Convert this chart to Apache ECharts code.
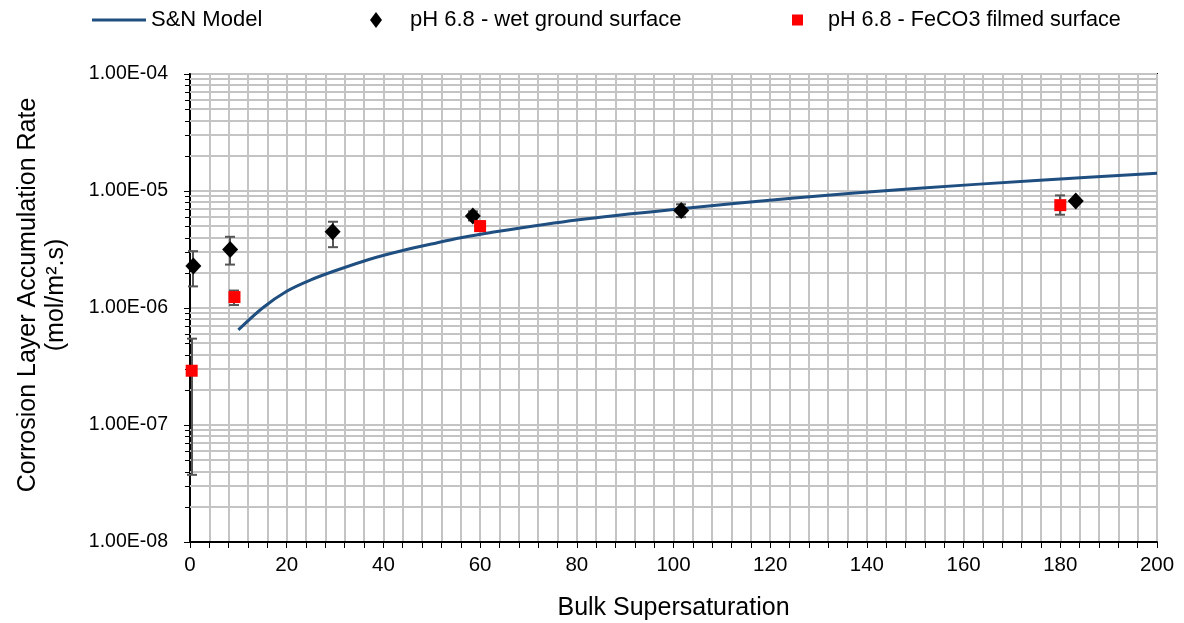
<!DOCTYPE html>
<html><head><meta charset="utf-8">
<script src="https://cdn.jsdelivr.net/npm/echarts@6/dist/echarts.min.js"></script>
<style>html,body{margin:0;padding:0;background:#fff}#c{width:1184px;height:623px}</style>
</head><body><div id="c"></div>
<script>
// ---- data ----
const modelX = [10, 15, 20, 25, 30, 37, 44, 51, 56, 62, 80, 100, 125, 150, 175, 200];
const modelY = [6.5e-7, 1.0e-6, 1.39e-6, 1.74e-6, 2.08e-6, 2.6e-6, 3.1e-6, 3.6e-6, 3.98e-6, 4.4e-6, 5.65e-6, 6.95e-6, 8.7e-6, 1.05e-5, 1.23e-5, 1.42e-5];

const wetX    = [0.7, 8.3, 29.5, 58.5, 101.6, 183.2];
const wetY    = [2.28e-6, 3.16e-6, 4.48e-6, 6.1e-6, 6.82e-6, 8.2e-6];
const wetHigh = [3.06e-6, 4.06e-6, 5.46e-6, 6.7e-6, 7.7e-6, 8.2e-6];
const wetLow  = [1.53e-6, 2.35e-6, 3.31e-6, 5.6e-6, 5.98e-6, 8.2e-6];

const filmX    = [0.35, 9.2, 60, 180];
const filmY    = [2.91e-7, 1.24e-6, 5.01e-6, 7.57e-6];
const filmHigh = [5.47e-7, 1.41e-6, 5.5e-6, 9.17e-6];
const filmLow  = [3.75e-8, 1.06e-6, 4.6e-6, 6.27e-6];

const yTickLabels = ['1.00E-08', '1.00E-07', '1.00E-06', '1.00E-05', '1.00E-04'];
const yDecades = [-8, -7, -6, -5];
const yMinorMultipliers = [2, 3, 4, 5, 6, 7, 8, 9];

const seriesNames = ['S&N Model', 'pH 6.8 - wet ground surface', 'pH 6.8 - FeCO3 filmed surface'];

// ---- build ----
const FONT = 'Liberation Sans, Arial, sans-serif';
const zip = (a, b) => a.map((v, i) => [v, b[i]]);
const zip3 = (a, b, c) => a.map((v, i) => [v, b[i], c[i]]);

const minorData = [];
yDecades.forEach(d => yMinorMultipliers.forEach(m => minorData.push([0, m * Math.pow(10, d)])));

function minorRender(params, api) {
  const v = api.value(1);
  const p1 = api.coord([0, v]);
  const p2 = api.coord([200, v]);
  const y = Math.round(p1[1]);
  return {
    type: 'group',
    children: [
      { type: 'line', shape: { x1: p1[0], y1: y, x2: p2[0], y2: y }, style: { stroke: '#c4c4c4', lineWidth: 2 } },
      { type: 'line', shape: { x1: p1[0] - 5, y1: y + 0.5, x2: p1[0], y2: y + 0.5 }, style: { stroke: '#000', lineWidth: 1 } }
    ]
  };
}

function errRender(params, api) {
  const x = api.value(0), lo = api.value(1), hi = api.value(2);
  if (lo === hi) return null;
  const pHi = api.coord([x, hi]);
  const pLo = api.coord([x, lo]);
  const cx = Math.round(pHi[0]);
  const w = 5;
  const st = { stroke: '#555555', lineWidth: 2 };
  return {
    type: 'group',
    children: [
      { type: 'line', shape: { x1: cx, y1: pHi[1], x2: cx, y2: pLo[1] }, style: st },
      { type: 'line', shape: { x1: cx - w, y1: pHi[1], x2: cx + w, y2: pHi[1] }, style: st },
      { type: 'line', shape: { x1: cx - w, y1: pLo[1], x2: cx + w, y2: pLo[1] }, style: st }
    ]
  };
}

const chart = echarts.init(document.getElementById('c'), null, { renderer: 'canvas' });
chart.setOption({
  backgroundColor: '#fff',
  animation: false,
  textStyle: { fontFamily: FONT, color: '#000' },
  legend: [
    { data: [{ name: seriesNames[0], icon: 'rect' }], left: 87, top: 4, itemWidth: 54, itemHeight: 3,
      textStyle: { fontFamily: FONT, fontSize: 22, color: '#000' } },
    { data: [{ name: seriesNames[1], icon: 'diamond' }], left: 365, top: 4, itemWidth: 12, itemHeight: 16,
      textStyle: { fontFamily: FONT, fontSize: 22, color: '#000', padding: [0, 0, 0, 23] } },
    { data: [{ name: seriesNames[2], icon: 'rect' }], left: 787, top: 4, itemWidth: 11, itemHeight: 11,
      textStyle: { fontFamily: FONT, fontSize: 21.6, color: '#000', padding: [0, 0, 0, 20] } }
  ],
  grid: { left: 190, right: 27, top: 74, bottom: 81, outerBoundsMode: 'none', containLabel: false,
    show: true, borderColor: '#000', borderWidth: 2, backgroundColor: 'transparent' },
  xAxis: {
    type: 'value', min: 0, max: 200, interval: 20,
    name: 'Bulk Supersaturation', nameLocation: 'middle', nameGap: 54,
    nameTextStyle: { fontFamily: FONT, fontSize: 25, color: '#000' },
    axisLine: { show: true, onZero: false, lineStyle: { color: '#000', width: 2 } },
    axisTick: { show: true, length: 6, lineStyle: { color: '#000', width: 1 } },
    minorTick: { show: true, splitNumber: 5, length: 6, lineStyle: { color: '#000', width: 1 } },
    axisLabel: { fontFamily: FONT, fontSize: 20.5, color: '#000', margin: 13 },
    splitLine: { show: true, lineStyle: { color: '#c4c4c4', width: 2 } },
    minorSplitLine: { show: true, lineStyle: { color: '#c4c4c4', width: 2 } }
  },
  yAxis: {
    type: 'log', logBase: 10, min: 1e-8, max: 1e-4,
    name: 'Corrosion Layer Accumulation Rate\n(mol/m².s)', nameLocation: 'middle', nameGap: 120, nameRotate: 90,
    nameTextStyle: { fontFamily: FONT, fontSize: 25, color: '#000', lineHeight: 28, padding: [0, 0, 0, 26] },
    axisLine: { show: true, onZero: false, lineStyle: { color: '#000', width: 2 } },
    axisTick: { show: true, length: 6, lineStyle: { color: '#000', width: 1 } },
    axisLabel: { fontFamily: FONT, fontSize: 19.5, color: '#000', margin: 22,
      formatter: v => yTickLabels[Math.round(Math.log10(v)) + 8] },
    splitLine: { show: true, lineStyle: { color: '#c4c4c4', width: 2 } }
  },
  series: [
    { type: 'custom', name: 'minor-grid', silent: true, z: 1, clip: false,
      renderItem: minorRender, encode: { x: 0, y: 1 }, data: minorData, tooltip: { show: false } },
    { type: 'line', name: seriesNames[0], data: zip(modelX, modelY), symbol: 'none', showSymbol: false, smooth: 0.3, z: 3,
      lineStyle: { color: '#1f4e80', width: 3 }, itemStyle: { color: '#1f4e80' } },
    { type: 'custom', name: 'wet-err', silent: true, z: 4, renderItem: errRender,
      encode: { x: 0, y: [1, 2] }, data: zip3(wetX, wetLow, wetHigh) },
    { type: 'custom', name: 'film-err', silent: true, z: 4, renderItem: errRender,
      encode: { x: 0, y: [1, 2] }, data: zip3(filmX, filmLow, filmHigh) },
    { type: 'scatter', name: seriesNames[1], data: zip(wetX, wetY), symbol: 'diamond', symbolSize: [16, 17], z: 5,
      itemStyle: { color: '#000', opacity: 1 } },
    { type: 'scatter', name: seriesNames[2], data: zip(filmX, filmY), symbol: 'rect', symbolSize: 12, z: 6,
      itemStyle: { color: '#ff0000', opacity: 1 } }
  ]
});
</script>
</body></html>
